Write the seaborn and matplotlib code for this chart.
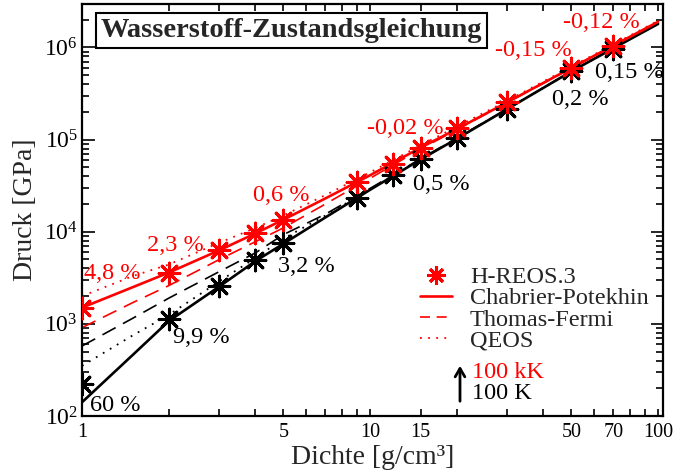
import numpy as np
import pandas as pd
import matplotlib
matplotlib.use("Agg")
import matplotlib.pyplot as plt
import seaborn as sns
from matplotlib.lines import Line2D
from matplotlib.ticker import FixedLocator, FixedFormatter, LogLocator, NullFormatter, LogFormatterMathtext

# ---------------- data ----------------
rho_points = [1, 2, 3, 4, 5, 9, 12, 15, 20, 30, 50, 70]
reos_100kK = [1.5e3, 3.6e3, 6.4e3, 9.8e3, 1.35e4, 3.5e4, 5.5e4, 8.2e4, 1.32e5, 2.57e5, 5.96e5, 1.05e6]
reos_100K = [222, 1.12e3, 2.6e3, 4.9e3, 7.6e3, 2.35e4, 4.1e4, 6.1e4, 1.03e5, 2.17e5, 5.5e5, 9.7e5]

rho_lines = [1, 1.5, 2, 3, 4, 5, 7, 10, 15, 20, 30, 50, 70, 100]
cp_100kK = [1.5e3, 2.5e3, 3.6e3, 6.3e3, 9.6e3, 1.35e4, 2.3e4, 4.1e4, 8.2e4, 1.3e5, 2.55e5, 6.0e5, 1.05e6, 1.9e6]
tf_100kK = [910, 1.7e3, 2.6e3, 5.0e3, 7.8e3, 1.1e4, 2.0e4, 3.8e4, 7.9e4, 1.28e5, 2.53e5, 5.95e5, 1.04e6, 1.88e6]
qeos_100kK = [2.0e3, 3.3e3, 4.4e3, 7.6e3, 1.1e4, 1.5e4, 2.5e4, 4.4e4, 8.7e4, 1.38e5, 2.65e5, 6.2e5, 1.08e6, 1.95e6]
cp_100K = [141, 460, 1.07e3, 2.55e3, 4.8e3, 7.4e3, 1.43e4, 2.85e4, 6.1e4, 1.02e5, 2.15e5, 5.5e5, 9.8e5, 1.8e6]
tf_100K = [575, 1.15e3, 1.9e3, 3.7e3, 5.9e3, 9.3e3, 1.55e4, 2.95e4, 6.2e4, 1.04e5, 2.16e5, 5.5e5, 9.9e5, 1.82e6]
qeos_100K = [350, 7.5e2, 1.25e3, 2.9e3, 5.2e3, 8.4e3, 1.5e4, 2.9e4, 6.15e4, 1.03e5, 2.15e5, 5.5e5, 9.85e5, 1.81e6]

dev_labels_100kK = ["4,8 %", "2,3 %", "0,6 %", "-0,02 %", "-0,15 %", "-0,12 %"]
dev_labels_100K = ["60 %", "9,9 %", "3,2 %", "0,5 %", "0,2 %", "0,15 %"]

x_tick_values = [1, 5, 10, 15, 50, 70, 100]
x_tick_labels = ["1", "5", "10", "15", "50", "70", "100"]

legend_labels = ["H-REOS.3", "Chabrier-Potekhin", "Thomas-Fermi", "QEOS"]
temp_labels = ["100 kK", "100 K"]

title = "Wasserstoff-Zustandsgleichung"
xlabel = "Dichte [g/cm³]"
ylabel = "Druck [GPa]"

# ---------------- style ----------------
sns.set_style("ticks")
plt.rcParams["font.family"] = ["Liberation Serif", "DejaVu Serif"]
plt.rcParams["mathtext.fontset"] = "custom"
plt.rcParams["mathtext.rm"] = "Liberation Serif"
plt.rcParams["mathtext.it"] = "Liberation Serif:italic"
plt.rcParams["mathtext.bf"] = "Liberation Serif:bold"

RED = "#ff0000"
BLACK = "#000000"

fig = plt.figure(figsize=(6.75, 4.73), dpi=100)
ax = fig.add_axes([0.1215, 0.1205, 0.8607, 0.8721])

lines_df = pd.DataFrame({
    "rho": rho_lines * 6,
    "p": cp_100kK + tf_100kK + qeos_100kK + cp_100K + tf_100K + qeos_100K,
    "series": (["cp_kK"] * len(rho_lines) + ["tf_kK"] * len(rho_lines) + ["qeos_kK"] * len(rho_lines)
               + ["cp_K"] * len(rho_lines) + ["tf_K"] * len(rho_lines) + ["qeos_K"] * len(rho_lines)),
})

styles = {
    "cp_kK": dict(color=RED, lw=1.9, ls="-"),
    "tf_kK": dict(color=RED, lw=1.2, ls=(0, (9, 5))),
    "qeos_kK": dict(color=RED, lw=1.3, ls=(0, (1, 3.5))),
    "cp_K": dict(color=BLACK, lw=1.9, ls="-"),
    "tf_K": dict(color=BLACK, lw=1.2, ls=(0, (9, 5))),
    "qeos_K": dict(color=BLACK, lw=1.3, ls=(0, (1, 3.5))),
}
for key in ["qeos_K", "tf_K", "cp_K", "qeos_kK", "tf_kK", "cp_kK"]:
    sub = lines_df[lines_df["series"] == key]
    st = styles[key]
    sns.lineplot(data=sub, x="rho", y="p", ax=ax, color=st["color"], linewidth=st["lw"],
                 linestyle=st["ls"], estimator=None, sort=False, legend=False)

pts_df = pd.DataFrame({
    "rho": rho_points * 2,
    "p": reos_100kK + reos_100K,
    "T": ["kK"] * len(rho_points) + ["K"] * len(rho_points),
})
star = (8, 2, 0)
for T, col in [("K", BLACK), ("kK", RED)]:
    sub = pts_df[pts_df["T"] == T]
    sns.scatterplot(data=sub, x="rho", y="p", ax=ax, marker=star, s=220, color=col,
                    edgecolor=col, linewidth=2.2, legend=False, zorder=5)

ax.set_xscale("log")
ax.set_yscale("log")
ax.set_xlim(1, 104)
ax.set_ylim(100, 3e6)

# ticks
ax.xaxis.set_major_locator(FixedLocator(x_tick_values))
ax.xaxis.set_major_formatter(FixedFormatter(x_tick_labels))
ax.xaxis.set_minor_locator(LogLocator(base=10, subs=np.arange(2, 10)))
ax.xaxis.set_minor_formatter(NullFormatter())
ax.yaxis.set_major_locator(LogLocator(base=10, numticks=10))
ax.yaxis.set_major_formatter(LogFormatterMathtext())
ax.yaxis.set_minor_locator(LogLocator(base=10, subs=np.arange(2, 10), numticks=20))
ax.yaxis.set_minor_formatter(NullFormatter())

ax.tick_params(axis="both", which="both", direction="in", top=True, right=True, width=1.2, colors=BLACK)
ax.tick_params(axis="x", which="both", length=5, labelsize=14.5, pad=5)
ax.tick_params(axis="y", which="major", length=9, labelsize=17, pad=3)
ax.tick_params(axis="y", which="minor", length=5)
for sp in ax.spines.values():
    sp.set_linewidth(1.6)
    sp.set_color(BLACK)

ax.set_xlabel(xlabel, fontsize=20, labelpad=2)
ax.set_ylabel(ylabel, fontsize=20, labelpad=4)

# title box
ax.text(0.3606, 0.9345, title, transform=ax.transAxes, ha="center", va="center",
        fontsize=20.5, fontweight="bold",
        bbox=dict(boxstyle="square,pad=0.18", fc="white", ec=BLACK, lw=1.5), zorder=10)

# deviation annotations (positions in axes fraction)
def ax_xy(px, py):
    return (px - 82) / 581.0, (416 - py) / 412.5

red_pos = [(84, 273), (147, 245), (253, 195), (367, 128), (495, 50), (563, 22)]
black_pos = [(90, 405), (173, 337), (278, 266), (413, 184), (552, 99), (595, 72)]
for lab, (px, py) in zip(dev_labels_100kK, red_pos):
    xx, yy = ax_xy(px, py)
    ax.text(xx, yy, lab, transform=ax.transAxes, color=RED, fontsize=17.5, ha="left", va="center", zorder=6)
for lab, (px, py) in zip(dev_labels_100K, black_pos):
    xx, yy = ax_xy(px, py)
    ax.text(xx, yy, lab, transform=ax.transAxes, color=BLACK, fontsize=17.5, ha="left", va="center", zorder=6)

# legend
handles = [
    Line2D([], [], color=RED, marker=star, markersize=13, markeredgewidth=2.2, linestyle="none"),
    Line2D([], [], color=RED, lw=1.9, ls="-"),
    Line2D([], [], color=RED, lw=1.2, ls=(0, (6, 4))),
    Line2D([], [], color=RED, lw=1.3, ls=(0, (1, 3.5))),
]
leg = ax.legend(handles, legend_labels, loc="upper left", bbox_to_anchor=ax_xy(420, 266),
                bbox_transform=ax.transAxes, frameon=False, fontsize=17.5, handlelength=1.3,
                handletextpad=0.75, labelspacing=-0.03, borderpad=0, borderaxespad=0)

tx, ty = ax_xy(472, 372)
ax.text(tx, ty, temp_labels[0], transform=ax.transAxes, color=RED, fontsize=17.5, ha="left", va="center")
tx, ty = ax_xy(472, 393)
ax.text(tx, ty, temp_labels[1], transform=ax.transAxes, color=BLACK, fontsize=17.5, ha="left", va="center")
a0 = ax_xy(460, 404)
a1 = ax_xy(460, 363)
ax.annotate("", xy=a1, xytext=a0, xycoords="axes fraction", textcoords="axes fraction",
            arrowprops=dict(arrowstyle="->,head_length=0.6,head_width=0.35", color=BLACK, lw=2))

fig.savefig("out.png", dpi=100)
